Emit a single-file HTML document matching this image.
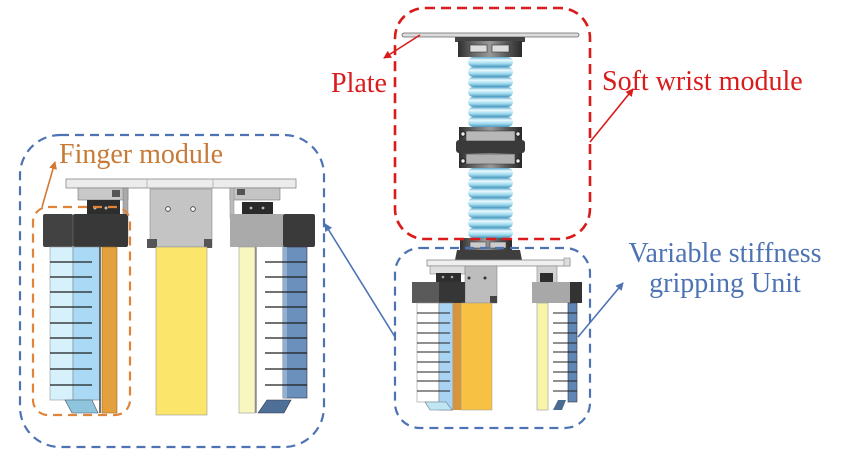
<!DOCTYPE html>
<html><head><meta charset="utf-8"><style>
html,body{margin:0;padding:0;background:#fff;}
svg{display:block;}
text{font-family:"Liberation Serif","Times New Roman",serif;font-size:28px;}
</style></head><body>
<svg width="863" height="455" viewBox="0 0 863 455" xmlns="http://www.w3.org/2000/svg">
<defs>
<linearGradient id="coil" x1="0" y1="0" x2="0" y2="1">
<stop offset="0" stop-color="#5aa8cc"/><stop offset="0.3" stop-color="#eafaff"/><stop offset="0.65" stop-color="#a3dcef"/><stop offset="1" stop-color="#4b98c0"/>
</linearGradient>
<linearGradient id="clamp" x1="0" y1="0" x2="1" y2="0">
<stop offset="0" stop-color="#2e2e2e"/><stop offset="0.25" stop-color="#6a6a6a"/><stop offset="0.5" stop-color="#9a9a9a"/><stop offset="0.75" stop-color="#5a5a5a"/><stop offset="1" stop-color="#2a2a2a"/>
</linearGradient>
<marker id="ar" markerWidth="8" markerHeight="8" refX="7" refY="4" orient="auto" markerUnits="userSpaceOnUse"><path d="M0,0 L8,4 L0,8 z" fill="#d91b1b"/></marker>
<marker id="ab" markerWidth="8" markerHeight="8" refX="7" refY="4" orient="auto" markerUnits="userSpaceOnUse"><path d="M0,0 L8,4 L0,8 z" fill="#4d73b5"/></marker>
<marker id="ao" markerWidth="8" markerHeight="8" refX="7" refY="4" orient="auto" markerUnits="userSpaceOnUse"><path d="M0,0 L8,4 L0,8 z" fill="#d07a36"/></marker>
</defs>
<rect width="863" height="455" fill="#fff"/>

<!-- ===== Soft wrist module drawing ===== -->
<rect x="402" y="33" width="177" height="4" rx="2" fill="#dcdcdc" stroke="#666" stroke-width="0.8"/>
<rect x="455" y="37" width="70" height="5" fill="#444"/>
<rect x="458" y="41" width="64" height="16" fill="url(#clamp)"/>
<rect x="470" y="45" width="17" height="7" fill="#ddd" stroke="#333" stroke-width="0.6"/>
<rect x="492" y="45" width="17" height="7" fill="#ddd" stroke="#333" stroke-width="0.6"/>
<g>
<rect x="468" y="57" width="45" height="10" rx="5" fill="url(#coil)"/>
<rect x="468" y="67" width="45" height="10" rx="5" fill="url(#coil)"/>
<rect x="468" y="77" width="45" height="10" rx="5" fill="url(#coil)"/>
<rect x="468" y="87" width="45" height="10" rx="5" fill="url(#coil)"/>
<rect x="468" y="97" width="45" height="10" rx="5" fill="url(#coil)"/>
<rect x="468" y="107" width="45" height="10" rx="5" fill="url(#coil)"/>
<rect x="468" y="117" width="45" height="10" rx="5" fill="url(#coil)"/>
</g>
<rect x="459" y="127" width="63" height="41" fill="url(#clamp)"/>
<rect x="456" y="140" width="69" height="13" rx="3" fill="#3a3a3a"/>
<rect x="466" y="131" width="49" height="10" fill="#b8b8b8" stroke="#333" stroke-width="0.5"/>
<rect x="466" y="154" width="49" height="10" fill="#b0b0b0" stroke="#333" stroke-width="0.5"/>
<circle cx="463" cy="134" r="2.2" fill="#eee" stroke="#222"/>
<circle cx="518" cy="134" r="2.2" fill="#eee" stroke="#222"/>
<circle cx="463" cy="161" r="2.2" fill="#eee" stroke="#222"/>
<circle cx="518" cy="161" r="2.2" fill="#eee" stroke="#222"/>
<g>
<rect x="468" y="168" width="45" height="10" rx="5" fill="url(#coil)"/>
<rect x="468" y="178" width="45" height="10" rx="5" fill="url(#coil)"/>
<rect x="468" y="188" width="45" height="10" rx="5" fill="url(#coil)"/>
<rect x="468" y="198" width="45" height="10" rx="5" fill="url(#coil)"/>
<rect x="468" y="208" width="45" height="10" rx="5" fill="url(#coil)"/>
<rect x="468" y="218" width="45" height="10" rx="5" fill="url(#coil)"/>
<rect x="468" y="228" width="45" height="10" rx="5" fill="url(#coil)"/>
</g>

<!-- ===== right small gripper ===== -->
<rect x="460" y="238" width="52" height="14" fill="url(#clamp)"/>
<path d="M457,250 L520,250 L522,260 L455,260 z" fill="#3e3e3e"/>
<rect x="470" y="242" width="16" height="6" fill="#ccc" stroke="#333" stroke-width="0.5"/>
<rect x="490" y="242" width="16" height="6" fill="#ccc" stroke="#333" stroke-width="0.5"/>
<rect x="427" y="260" width="143" height="6" fill="#f0eef0" stroke="#888" stroke-width="0.8"/>
<rect x="564" y="258" width="6" height="8" fill="#ddd" stroke="#888" stroke-width="0.6"/>
<rect x="430" y="266" width="35" height="8" fill="#dedede" stroke="#888" stroke-width="0.6"/>
<rect x="436" y="273" width="25" height="9" fill="#2e2e2e"/>
<circle cx="443" cy="277" r="1.3" fill="#aaa"/><circle cx="452" cy="277" r="1.3" fill="#aaa"/>
<rect x="465" y="266" width="32" height="37" fill="#bdbdbd" stroke="#888" stroke-width="0.6"/>
<circle cx="469" cy="278" r="1.5" fill="#333"/><circle cx="485" cy="278" r="1.5" fill="#333"/>
<rect x="490" y="296" width="7" height="7" fill="#444"/>
<rect x="412" y="282" width="27" height="21" fill="#5a5a5a"/>
<rect x="439" y="282" width="26" height="21" fill="#363636"/>
<rect x="417" y="303" width="22" height="99" fill="#fff" stroke="#999" stroke-width="0.6"/>
<rect x="439" y="303" width="14" height="107" fill="#a8d4f2" stroke="#777" stroke-width="0.6"/>
<rect x="453" y="303" width="8" height="107" fill="#d8943a"/>
<rect x="461" y="303" width="31" height="107" fill="#f7c244" stroke="#999" stroke-width="0.5"/>
<g stroke="#222" stroke-width="1">
<line x1="417" y1="313" x2="450" y2="313"/><line x1="417" y1="323" x2="450" y2="323"/><line x1="417" y1="333" x2="450" y2="333"/>
<line x1="417" y1="343" x2="450" y2="343"/><line x1="417" y1="352" x2="450" y2="352"/><line x1="417" y1="362" x2="450" y2="362"/>
<line x1="417" y1="372" x2="450" y2="372"/><line x1="417" y1="381" x2="450" y2="381"/><line x1="417" y1="391" x2="450" y2="391"/>
</g>
<path d="M425,402 L446,402 L452,410 L430,410 z" fill="#bfe6f2" stroke="#678" stroke-width="0.6"/>
<rect x="537" y="266" width="20" height="17" fill="#d2d2d2" stroke="#888" stroke-width="0.6"/>
<rect x="540" y="273" width="13" height="10" fill="#2e2e2e"/>
<rect x="532" y="282" width="38" height="21" fill="#a8a8a8"/>
<rect x="570" y="282" width="12" height="21" fill="#333"/>
<rect x="537" y="303" width="11" height="107" fill="#f8f5a8" stroke="#999" stroke-width="0.6"/>
<rect x="568" y="303" width="9" height="99" fill="#5f86b4" stroke="#334" stroke-width="0.6"/>
<g stroke="#222" stroke-width="1">
<line x1="553" y1="313" x2="577" y2="313"/><line x1="553" y1="323" x2="577" y2="323"/><line x1="553" y1="333" x2="577" y2="333"/>
<line x1="553" y1="343" x2="577" y2="343"/><line x1="553" y1="352" x2="577" y2="352"/><line x1="553" y1="362" x2="577" y2="362"/>
<line x1="553" y1="372" x2="577" y2="372"/><line x1="553" y1="381" x2="577" y2="381"/><line x1="553" y1="391" x2="577" y2="391"/>
</g>
<path d="M553,410 L558,400 L566,400 L562,410 z" fill="#4a6a92"/>

<!-- ===== left large gripper ===== -->
<rect x="66" y="179" width="230" height="9" fill="#ececec" stroke="#888" stroke-width="0.8"/>
<line x1="147" y1="179" x2="147" y2="188" stroke="#999" stroke-width="0.6"/>
<line x1="213" y1="179" x2="213" y2="188" stroke="#999" stroke-width="0.6"/>
<rect x="78" y="188" width="50" height="12" fill="#c8c8c8" stroke="#777" stroke-width="0.6"/>
<rect x="112" y="190" width="8" height="7" fill="#555"/>
<rect x="87" y="200" width="33" height="14" fill="#2d2d2d"/>
<circle cx="95" cy="208" r="1.5" fill="#bbb"/><circle cx="106" cy="208" r="1.5" fill="#bbb"/>
<rect x="123" y="188" width="5" height="56" fill="#aaa" stroke="#777" stroke-width="0.5"/>
<rect x="43" y="214" width="30" height="33" rx="2" fill="#424242"/>
<rect x="73" y="214" width="55" height="33" rx="2" fill="#383838"/>
<line x1="73" y1="215" x2="73" y2="246" stroke="#666" stroke-width="0.8"/>
<rect x="50" y="247" width="23" height="153" fill="#d6f1fb" stroke="#999" stroke-width="0.6"/>
<rect x="73" y="247" width="27" height="153" fill="#a9d9f5" stroke="#888" stroke-width="0.6"/>
<g stroke="#1e1e1e" stroke-width="1.2">
<line x1="50" y1="262" x2="92" y2="262"/><line x1="50" y1="277" x2="92" y2="277"/><line x1="50" y1="292" x2="92" y2="292"/>
<line x1="50" y1="307" x2="92" y2="307"/><line x1="50" y1="323" x2="92" y2="323"/><line x1="50" y1="338" x2="92" y2="338"/>
<line x1="50" y1="353" x2="92" y2="353"/><line x1="50" y1="369" x2="92" y2="369"/><line x1="50" y1="385" x2="92" y2="385"/>
</g>
<line x1="100" y1="247" x2="100" y2="413" stroke="#444" stroke-width="1.5"/>
<rect x="102" y="247" width="15" height="166" fill="#e3a03c" stroke="#9a6a2a" stroke-width="0.6"/>
<path d="M65,400 L92,400 L98,413 L72,413 z" fill="#8ec4dc" stroke="#456" stroke-width="0.6"/>

<rect x="150" y="189" width="62" height="58" fill="#c4c4c4" stroke="#888" stroke-width="0.6"/>
<circle cx="168" cy="209" r="2.3" fill="#fff" stroke="#333" stroke-width="0.8"/>
<circle cx="193" cy="209" r="2.3" fill="#fff" stroke="#333" stroke-width="0.8"/>
<rect x="147" y="239" width="10" height="9" fill="#555"/>
<rect x="204" y="239" width="8" height="9" fill="#555"/>
<rect x="156" y="247" width="51" height="168" fill="#fbe56a" stroke="#999" stroke-width="0.6"/>

<rect x="230" y="188" width="50" height="12" fill="#c4c4c4" stroke="#777" stroke-width="0.6"/>
<rect x="230" y="188" width="4" height="30" fill="#bbb" stroke="#888" stroke-width="0.5"/>
<rect x="237" y="189" width="8" height="6" fill="#555"/>
<rect x="242" y="202" width="31" height="12" fill="#2a2a2a"/>
<circle cx="251" cy="208" r="1.4" fill="#bbb"/><circle cx="263" cy="208" r="1.4" fill="#bbb"/>
<rect x="230" y="214" width="53" height="33" fill="#aaaaaa"/>
<rect x="283" y="214" width="32" height="33" rx="2" fill="#3a3a3a"/>
<rect x="239" y="247" width="16" height="166" fill="#f9f7c0" stroke="#999" stroke-width="0.6"/>
<line x1="256" y1="247" x2="256" y2="413" stroke="#555" stroke-width="1"/>
<rect x="283" y="247" width="24" height="151" fill="#6b90bb" stroke="#334" stroke-width="0.6"/>
<rect x="283" y="247" width="4" height="151" fill="#8fb0d0"/>
<g stroke="#1e1e1e" stroke-width="1.2">
<line x1="265" y1="262" x2="307" y2="262"/><line x1="265" y1="277" x2="307" y2="277"/><line x1="265" y1="292" x2="307" y2="292"/>
<line x1="265" y1="307" x2="307" y2="307"/><line x1="265" y1="323" x2="307" y2="323"/><line x1="265" y1="338" x2="307" y2="338"/>
<line x1="265" y1="353" x2="307" y2="353"/><line x1="265" y1="369" x2="307" y2="369"/><line x1="265" y1="385" x2="307" y2="385"/>
</g>
<path d="M258,413 L267,400 L291,400 L284,413 z" fill="#4e6f98" stroke="#334" stroke-width="0.6"/>

<!-- ===== dashed boxes ===== -->
<rect x="395" y="8" width="195" height="231" rx="30" fill="none" stroke="#d91b1b" stroke-width="2.6" stroke-dasharray="10,6"/>
<rect x="395" y="248" width="195" height="180" rx="25" fill="none" stroke="#4d73b5" stroke-width="2.2" stroke-dasharray="9,6"/>
<rect x="20" y="135" width="304" height="312" rx="40" fill="none" stroke="#4d73b5" stroke-width="2.2" stroke-dasharray="9,6"/>
<rect x="33" y="207" width="97" height="208" rx="15" fill="none" stroke="#e0843a" stroke-width="2.2" stroke-dasharray="9,6"/>

<!-- ===== arrows ===== -->
<line x1="420" y1="35" x2="384" y2="58" stroke="#d91b1b" stroke-width="1.6" marker-end="url(#ar)"/>
<line x1="590" y1="142" x2="633" y2="89" stroke="#d91b1b" stroke-width="1.6" marker-end="url(#ar)"/>
<line x1="578" y1="337" x2="623" y2="283" stroke="#4d73b5" stroke-width="1.6" marker-end="url(#ab)"/>
<line x1="395" y1="337" x2="325" y2="224" stroke="#4d73b5" stroke-width="1.6" marker-end="url(#ab)"/>
<line x1="42" y1="207" x2="55" y2="162" stroke="#d07a36" stroke-width="1.6" marker-end="url(#ao)"/>

<!-- ===== labels ===== -->
<text x="331" y="92" fill="#d91b1b">Plate</text>
<text x="602" y="90" fill="#d91b1b">Soft wrist module</text>
<text x="725" y="262" fill="#4d73b5" text-anchor="middle">Variable stiffness</text>
<text x="725" y="292" fill="#4d73b5" text-anchor="middle">gripping Unit</text>
<text x="59" y="163" fill="#c77a36">Finger module</text>
</svg>
</body></html>
